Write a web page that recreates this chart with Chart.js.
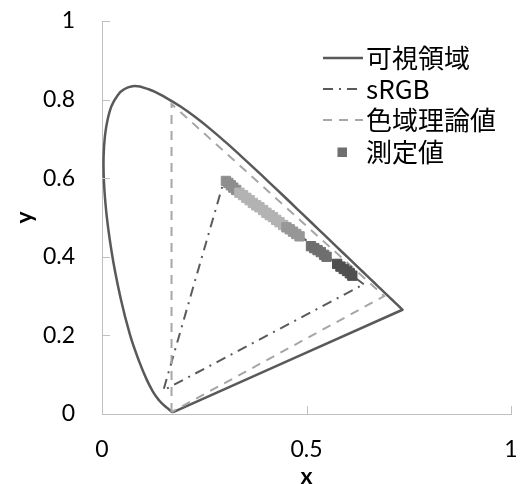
<!DOCTYPE html>
<html>
<head>
<meta charset="utf-8">
<script src="https://cdn.jsdelivr.net/npm/chart.js@4/dist/chart.umd.min.js"></script>
<style>
  html, body { margin: 0; padding: 0; background: #fff; }
  canvas { display: block; }
</style>
</head>
<body>
<canvas id="chart" width="525" height="484"></canvas>
<script>
// CIE 1931 spectral locus, 380–700 nm in 5 nm steps
const locusX = [0.1741,0.1740,0.1738,0.1736,0.1733,0.1730,0.1726,0.1721,0.1714,0.1703,
                0.1689,0.1669,0.1644,0.1611,0.1566,0.1510,0.1440,0.1355,0.1241,0.1096,
                0.0913,0.0687,0.0454,0.0235,0.0082,0.0039,0.0139,0.0389,0.0743,0.1142,
                0.1547,0.1929,0.2296,0.2658,0.3016,0.3373,0.3731,0.4087,0.4441,0.4788,
                0.5125,0.5448,0.5752,0.6029,0.6270,0.6482,0.6658,0.6801,0.6915,0.7006,
                0.7079,0.7140,0.7190,0.7230,0.7260,0.7283,0.7300,0.7311,0.7320,0.7327,
                0.7334,0.7340,0.7344,0.7346,0.7347];
const locusY = [0.0050,0.0050,0.0049,0.0049,0.0048,0.0048,0.0048,0.0048,0.0051,0.0058,
                0.0069,0.0086,0.0109,0.0138,0.0177,0.0227,0.0297,0.0399,0.0578,0.0868,
                0.1327,0.2007,0.2950,0.4127,0.5384,0.6548,0.7502,0.8120,0.8338,0.8262,
                0.8059,0.7816,0.7543,0.7243,0.6923,0.6589,0.6245,0.5896,0.5547,0.5202,
                0.4866,0.4544,0.4242,0.3965,0.3725,0.3514,0.3340,0.3197,0.3083,0.2993,
                0.2920,0.2859,0.2809,0.2770,0.2740,0.2717,0.2700,0.2689,0.2680,0.2673,
                0.2666,0.2660,0.2656,0.2654,0.2653];

// sRGB primaries (R, G, B, back to R)
const srgbX = [0.64, 0.30, 0.15, 0.64];
const srgbY = [0.33, 0.60, 0.06, 0.33];

// theoretical gamut of the device
const gamutX = [0.170, 0.170, 0.690, 0.170];
const gamutY = [0.005, 0.789, 0.300, 0.005];

// measured chromaticities, grouped by measurement run
const measuredX = [0.303,0.309,0.315,0.321,0.328,
                   0.336,0.345,0.353,0.361,0.369,0.377,0.385,0.394,0.402,0.410,0.418,0.426,0.434,0.443,
                   0.451,0.459,0.467,0.475,0.483,
                   0.511,0.519,0.527,0.535,0.543,0.549,
                   0.575,0.583,0.591,0.599,0.606,0.612];
const measuredY = [0.593,0.588,0.582,0.576,0.570,
                   0.563,0.557,0.550,0.544,0.537,0.531,0.526,0.519,0.512,0.506,0.501,0.494,0.488,0.481,
                   0.475,0.470,0.464,0.458,0.452,
                   0.427,0.422,0.417,0.412,0.405,0.400,
                   0.382,0.375,0.369,0.364,0.358,0.352];
const measuredRun = [0,0,0,0,0,
                     1,1,1,1,1,1,1,1,1,1,1,1,1,1,
                     2,2,2,2,2,
                     3,3,3,3,3,3,
                     4,4,4,4,4,4];

const xTicks = [0, 0.5, 1];
const yTicks = [0, 0.2, 0.4, 0.6, 0.8, 1];
const seriesNames = ['可視領域', 'sRGB', '色域理論値', '測定値'];

// ---- styling ----
const runShades = ['#8e8e8e', '#b3b3b3', '#979797', '#6f6f6f', '#505050'];
const axisGray = '#bfbfbf';
const tickFont = { family: 'Lato', size: 23 };

const toPoints = (xs, ys) => xs.map((x, i) => ({ x, y: ys[i] }));
const locusPoints = toPoints(locusX, locusY);
locusPoints.push({ ...locusPoints[0] }); // line of purples closes the locus

// inward tick marks on both axes
const innerTicks = {
  id: 'innerTicks',
  afterDraw(chart) {
    const { ctx, chartArea, scales } = chart;
    ctx.save();
    ctx.strokeStyle = axisGray;
    ctx.lineWidth = 1;
    ctx.beginPath();
    scales.x.ticks.forEach(t => {
      const px = Math.round(scales.x.getPixelForValue(t.value)) + 0.5;
      ctx.moveTo(px, chartArea.bottom);
      ctx.lineTo(px, chartArea.bottom - 8);
    });
    scales.y.ticks.forEach(t => {
      const py = Math.round(scales.y.getPixelForValue(t.value)) + 0.5;
      ctx.moveTo(chartArea.left, py);
      ctx.lineTo(chartArea.left + 8, py);
    });
    ctx.stroke();
    ctx.restore();
  }
};

// legend drawn inside the plot, top right
const sideLegend = {
  id: 'sideLegend',
  afterDraw(chart) {
    const { ctx } = chart;
    const rows = [58, 89, 120, 152];
    const x0 = 323, x1 = 363, tx = 366;
    ctx.save();
    chart.data.datasets.forEach((ds, i) => {
      const y = rows[i];
      if (ds.showLine === false) {
        ctx.fillStyle = '#6f6f6f';
        ctx.fillRect(337.5, y - 4.5, 9.5, 9.5);
      } else {
        ctx.strokeStyle = ds.borderColor;
        ctx.lineWidth = ds.borderWidth;
        ctx.setLineDash(ds.borderDash || []);
        ctx.beginPath();
        ctx.moveTo(x0, y);
        ctx.lineTo(x1, y);
        ctx.stroke();
        ctx.setLineDash([]);
      }
      ctx.fillStyle = '#000';
      ctx.font = '26px "Noto Sans CJK JP"';
      ctx.textBaseline = 'middle';
      ctx.textAlign = 'left';
      ctx.fillText(ds.label, tx, y);
    });
    ctx.restore();
  }
};

const plainNumber = v => String(+v);

new Chart(document.getElementById('chart'), {
  type: 'scatter',
  data: {
    datasets: [
      {
        label: seriesNames[0],
        data: locusPoints,
        showLine: true,
        borderColor: '#595959',
        borderWidth: 2.5,
        pointRadius: 0,
        tension: 0.4,
        order: 3
      },
      {
        label: seriesNames[1],
        data: toPoints(srgbX, srgbY),
        showLine: true,
        borderColor: '#5a5a5a',
        borderWidth: 2,
        borderDash: [10, 6, 2, 6],
        pointRadius: 0,
        order: 2
      },
      {
        label: seriesNames[2],
        data: toPoints(gamutX, gamutY),
        showLine: true,
        borderColor: '#a6a6a6',
        borderWidth: 2,
        borderDash: [9, 7],
        pointRadius: 0,
        order: 1
      },
      {
        label: seriesNames[3],
        data: toPoints(measuredX, measuredY),
        showLine: false,
        pointStyle: 'rect',
        pointRadius: 6.6,
        pointBorderWidth: 1,
        pointBackgroundColor: measuredRun.map(r => runShades[r]),
        pointBorderColor: measuredRun.map(r => runShades[r]),
        order: 0
      }
    ]
  },
  options: {
    responsive: false,
    animation: false,
    events: [],
    layout: { padding: { top: 21, right: 14, left: 0, bottom: 0 } },
    plugins: {
      legend: { display: false },
      tooltip: { enabled: false }
    },
    scales: {
      x: {
        type: 'linear',
        min: 0, max: 1,
        afterBuildTicks: s => { s.ticks = xTicks.map(v => ({ value: v })); },
        afterFit: s => { s.height = 70; s.paddingLeft = 0; s.paddingRight = 0; },
        grid: { display: false, drawTicks: false },
        border: { display: true, color: axisGray, width: 1 },
        ticks: { color: '#000', font: tickFont, padding: 22, maxRotation: 0, callback: plainNumber },
        title: {
          display: true, text: 'x', color: '#000',
          font: { family: 'Lato', size: 23, weight: 'bold', lineHeight: 1 },
          padding: { top: 0, bottom: -4 }
        }
      },
      y: {
        type: 'linear',
        min: 0, max: 1,
        afterBuildTicks: s => { s.ticks = yTicks.map(v => ({ value: v })); },
        afterFit: s => { s.width = 102; s.paddingTop = 0; s.paddingBottom = 0; },
        grid: { display: false, drawTicks: false },
        border: { display: true, color: axisGray, width: 1 },
        ticks: { color: '#000', font: tickFont, padding: 27, callback: plainNumber },
        title: {
          display: true, text: 'y', color: '#000',
          font: { family: 'Lato', size: 23, weight: 'bold', lineHeight: 1 },
          padding: { top: 13, bottom: 0 }
        }
      }
    }
  },
  plugins: [innerTicks, sideLegend]
});
</script>
</body>
</html>
